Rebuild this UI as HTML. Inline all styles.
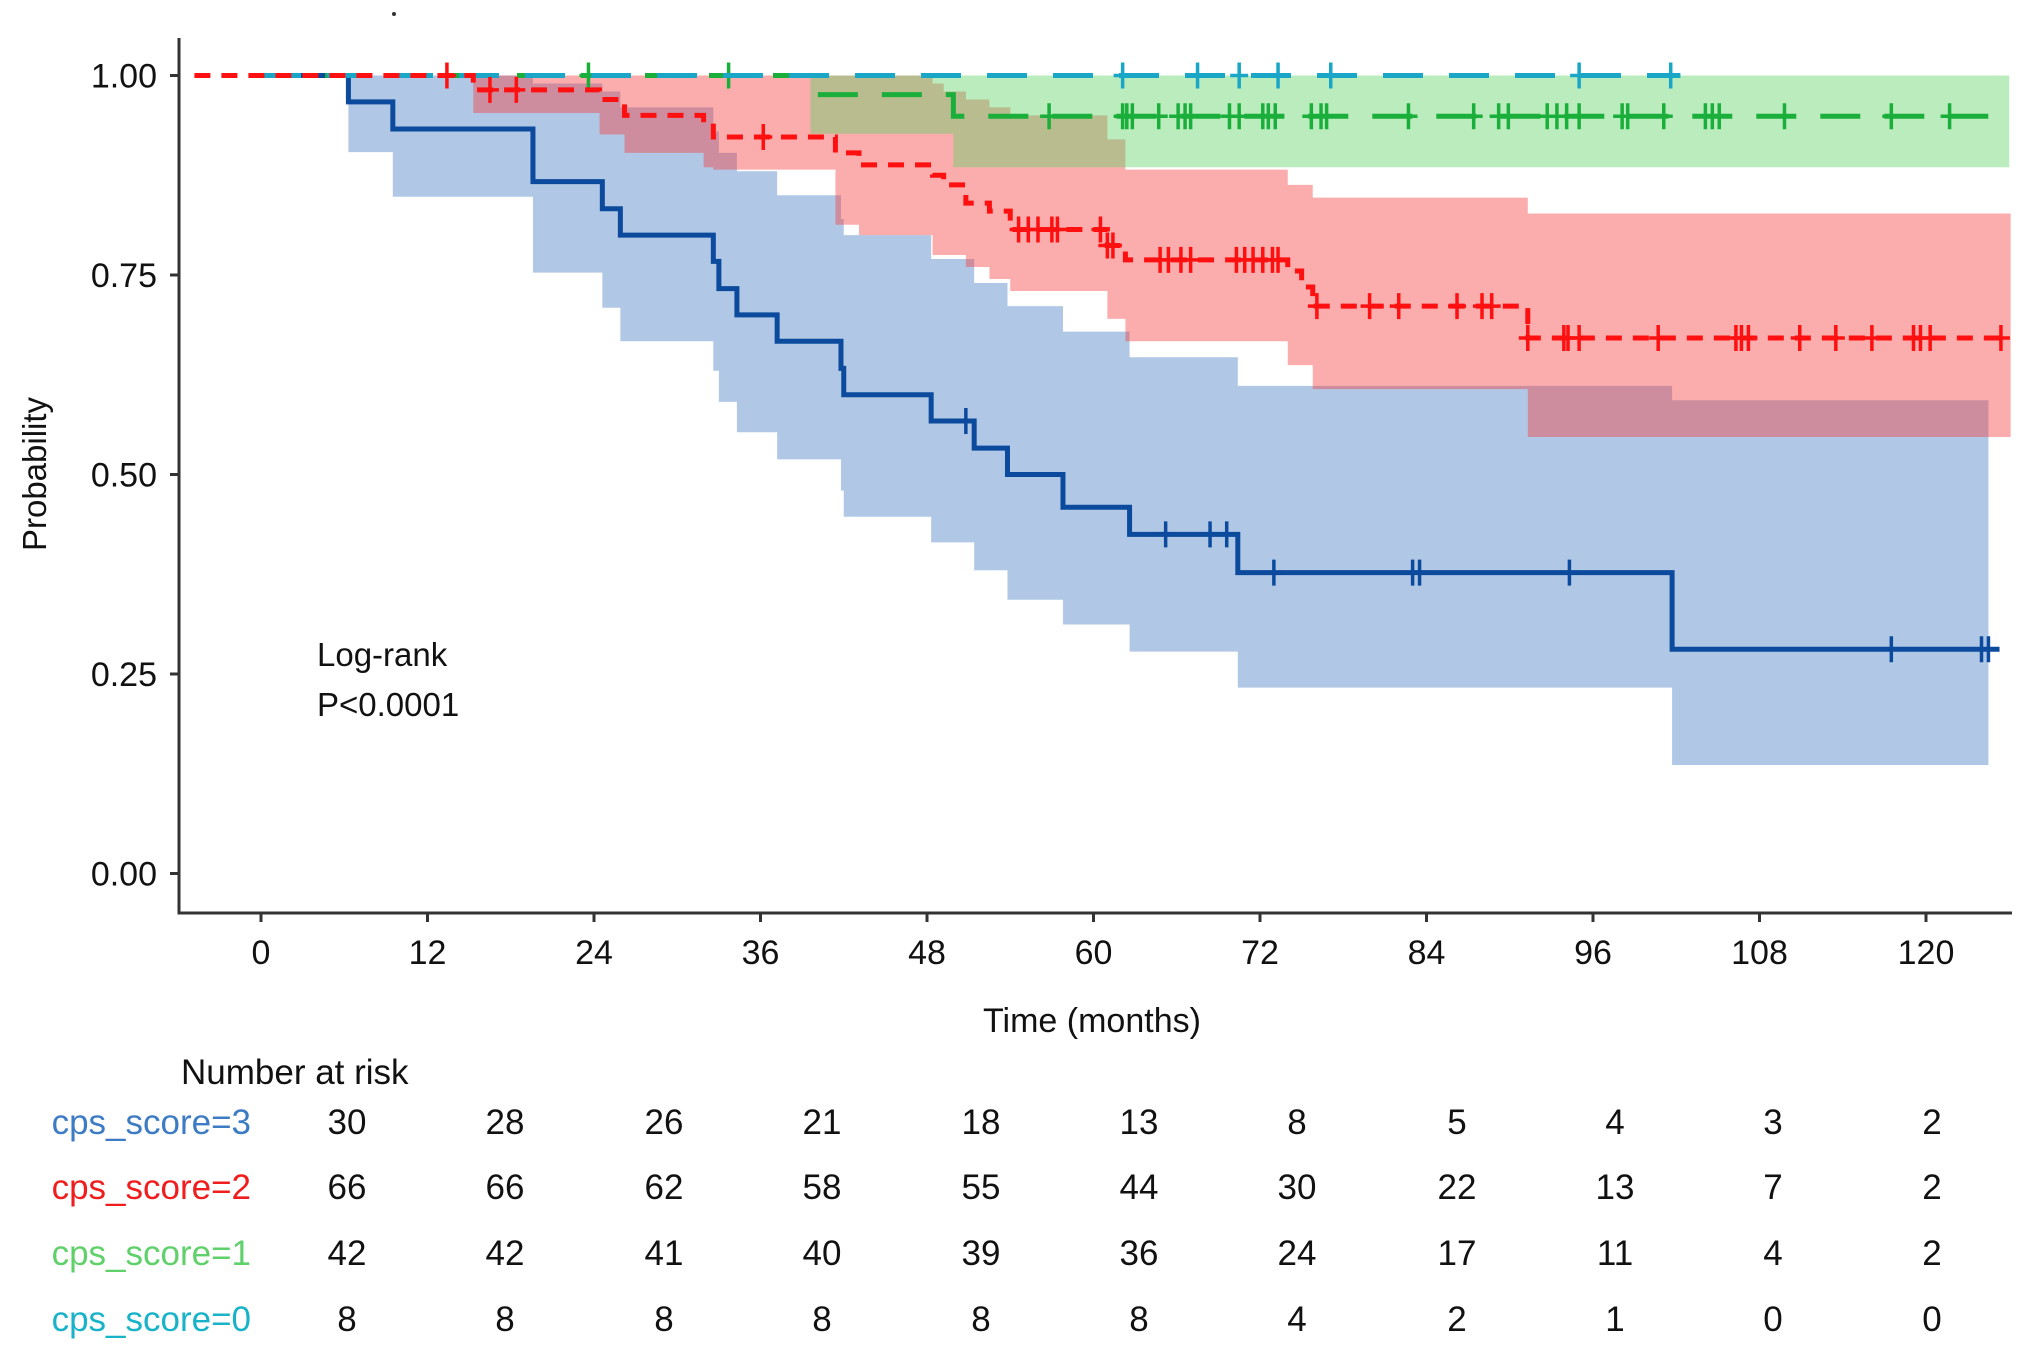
<!DOCTYPE html>
<html><head><meta charset="utf-8">
<style>
html,body{margin:0;padding:0;background:#fff;}
svg{display:block;font-family:"Liberation Sans",sans-serif;}
</style></head>
<body>
<svg id="chart" width="2032" height="1350" viewBox="0 0 2032 1350" xmlns="http://www.w3.org/2000/svg">
<circle cx="394" cy="14" r="2" fill="#333"/>
<g id="bands"></g>
<g id="lines"></g>
<g id="axes"></g>
<text transform="translate(46,474) rotate(-90)" text-anchor="middle" font-size="33" fill="#111">Probability</text>
<text x="1092" y="1032" text-anchor="middle" font-size="34" fill="#111">Time (months)</text>
<text x="317" y="666" font-size="33" fill="#111">Log-rank</text>
<text x="317" y="716" font-size="33" fill="#111">P&lt;0.0001</text>
<text x="181" y="1084" font-size="35" fill="#111">Number at risk</text>
<g id="risk"></g>
</svg>
<script>
// ---- data ----
const xTicks = [0,12,24,36,48,60,72,84,96,108,120];
const yTicks = [0,0.25,0.5,0.75,1.0];
const yTickLabels = ["0.00","0.25","0.50","0.75","1.00"];

const blueTimes = [0,6.3,9.5,19.6,24.6,25.9,32.6,33.0,34.3,37.2,41.8,42.0,48.3,51.4,53.8,57.8,62.6,70.4,101.7];
const blueSurv  = [1,.967,.933,.867,.833,.80,.767,.733,.70,.667,.633,.60,.567,.533,.50,.459,.425,.377,.281];
const blueLower = [1,.904,.848,.753,.709,.667,.63,.591,.553,.519,.48,.447,.415,.38,.343,.312,.278,.233,.136];
const blueUpper = [1,1,1,.99,.98,.96,.93,.903,.88,.85,.82,.80,.77,.74,.711,.679,.647,.611,.593];
const blueEnd = 125.3;
const blueBandEnd = 124.5;
const blueCensor = [50.8,65.2,68.4,69.6,73.0,83.0,83.5,94.3,117.5,124.0,124.5];

const redTimes = [-4.8,15.3,24.4,26.2,31.9,32.6,41.4,43.1,48.4,49.2,50.8,52.5,54.0,61.0,62.3,74.0,75.0,75.8,91.3];
const redSurv  = [1,.982,.97,.95,.94,.923,.903,.888,.875,.863,.84,.83,.807,.787,.769,.755,.735,.711,.671];
const redLower = [1,.953,.926,.903,.885,.882,.813,.80,.775,.775,.76,.745,.73,.695,.667,.637,.637,.607,.547];
const redUpper = [1,1,1,1,1,1,1,1,.99,.98,.97,.96,.95,.92,.882,.863,.863,.847,.827];
const redEnd = 126.1;
const redCensor = [13.4,16.5,18.4,36.2,54.6,55.3,56.0,57.0,57.4,60.5,61.0,61.4,64.8,65.4,66.3,67.0,70.3,70.9,71.5,72.2,72.9,73.3,76.1,79.9,82.0,86.2,88.0,88.7,91.3,93.9,94.2,95.0,100.7,106.3,106.7,107.2,110.9,113.5,116.1,119.1,119.6,120.3,125.4];

const greenTimes = [0,39.6,49.9];
const greenSurv  = [1,.976,.949];
const greenLower = [1,.927,.885];
const greenUpper = [1,1,1];
const greenEnd = 126;
const greenCensor = [23.6,33.7,56.8,62.1,62.4,62.8,64.7,66.1,66.6,67.0,69.8,70.5,72.2,72.6,73.1,75.7,76.4,76.8,82.7,87.4,89.2,89.9,92.7,93.4,94.1,95.0,98.1,98.5,101.1,104.1,104.6,105.1,109.8,117.5,121.7];

const cyanTimes = [0];
const cyanSurv = [1];
const cyanEnd = 102.3;
const cyanCensor = [62.1,67.5,70.5,73.3,77.1,95.0,101.6];

const riskGroups = ["cps_score=3","cps_score=2","cps_score=1","cps_score=0"];
const risk3 = [30,28,26,21,18,13,8,5,4,3,2];
const risk2 = [66,66,62,58,55,44,30,22,13,7,2];
const risk1 = [42,42,41,40,39,36,24,17,11,4,2];
const risk0 = [8,8,8,8,8,8,4,2,1,0,0];

// ---- scales ----
const X = t => 261 + t*13.875;
const Y = p => 873.5 - p*798;
const NS = "http://www.w3.org/2000/svg";
function mk(tag, attrs, parent){
  const e = document.createElementNS(NS, tag);
  for (const k in attrs) e.setAttribute(k, attrs[k]);
  parent.appendChild(e); return e;
}
function stepPts(times, vals, end){
  let pts = [];
  for (let i=0;i<times.length;i++){
    if (i>0) pts.push([X(times[i]), Y(vals[i-1])]);
    pts.push([X(times[i]), Y(vals[i])]);
  }
  pts.push([X(end), Y(vals[vals.length-1])]);
  return pts;
}
const bands = document.getElementById('bands');
const lines = document.getElementById('lines');
function band(times, lower, upper, end, fill, name){
  const up = stepPts(times, upper, end);
  const lo = stepPts(times, lower, end).reverse();
  const p = mk('polygon', {points: up.concat(lo).map(q=>q.join(',')).join(' '), fill: fill}, bands);
  
  
}
function curve(times, surv, end, color, dash, censor, name){
  const pts = stepPts(times, surv, end);
  const pl = mk('polyline', {points: pts.map(q=>q.join(',')).join(' '), fill:'none', stroke:color, 'stroke-width':5, 'stroke-dasharray':dash}, lines);
  
  
  censor.forEach(t=>{
    let v = surv[0];
    for (let i=0;i<times.length;i++) if (times[i] <= t) v = surv[i];
    const g = mk('path', {d:`M${X(t)},${Y(v)-13}V${Y(v)+13}M${X(t)-9},${Y(v)}H${X(t)+9}`, stroke:color, 'stroke-width':3.5, fill:'none'}, lines);
    
    
  });
}
band(blueTimes, blueLower, blueUpper, blueBandEnd, 'rgba(98,146,204,0.5)', 'band-cps3');
band(redTimes, redLower, redUpper, redEnd, 'rgba(245,60,60,0.42)', 'band-cps2');
band(greenTimes, greenLower, greenUpper, greenEnd, 'rgba(90,210,100,0.42)', 'band-cps1');
curve(blueTimes, blueSurv, blueEnd, '#0b4a9c', 'none', blueCensor, 'curve-cps3');
curve(greenTimes, greenSurv, greenEnd, '#1aae3a', '40 24', greenCensor, 'curve-cps1');
curve(cyanTimes, cyanSurv, cyanEnd, '#1aa6c6', '40 26', cyanCensor, 'curve-cps0');
curve(redTimes, redSurv, redEnd, '#ff1010', '16 11', redCensor, 'curve-cps2');

// ---- axes ----
const axes = document.getElementById('axes');
const ax = mk('path', {d:'M179,38V913H2012', stroke:'#333', 'stroke-width':3, fill:'none'}, axes);


yTicks.forEach((v,i)=>{
  const tk = mk('line', {x1:170, x2:179, y1:Y(v), y2:Y(v), stroke:'#333', 'stroke-width':3}, axes);
  
  
  const tx = mk('text', {x:157, y:Y(v)+12, 'text-anchor':'end', 'font-size':34, fill:'#111'}, axes);
  
  
  tx.textContent = yTickLabels[i];
});
xTicks.forEach(t=>{
  const tk = mk('line', {x1:X(t), x2:X(t), y1:913, y2:922, stroke:'#333', 'stroke-width':3}, axes);
  
  
  const tx = mk('text', {x:X(t), y:964, 'text-anchor':'middle', 'font-size':34, fill:'#111'}, axes);
  
  
  tx.textContent = t;
});

// ---- risk table ----
const risk = document.getElementById('risk');
const riskRows = [risk3, risk2, risk1, risk0];
const riskColors = ['#3d7cc4','#f01d1d','#5fd06a','#19b3c9'];
const rowY = [1134, 1199, 1265, 1331];
const colX = [347,505,664,822,981,1139,1297,1457,1615,1773,1932];
riskGroups.forEach((g,r)=>{
  const lb = mk('text', {x:251, y:rowY[r], 'text-anchor':'end', 'font-size':35, fill:riskColors[r]}, risk);
  
  
  lb.textContent = g;
  riskRows[r].forEach((n,c)=>{
    const tx = mk('text', {x:colX[c], y:rowY[r], 'text-anchor':'middle', 'font-size':35, fill:'#111'}, risk);
    
    
    tx.textContent = n;
  });
});
</script>
</body></html>
